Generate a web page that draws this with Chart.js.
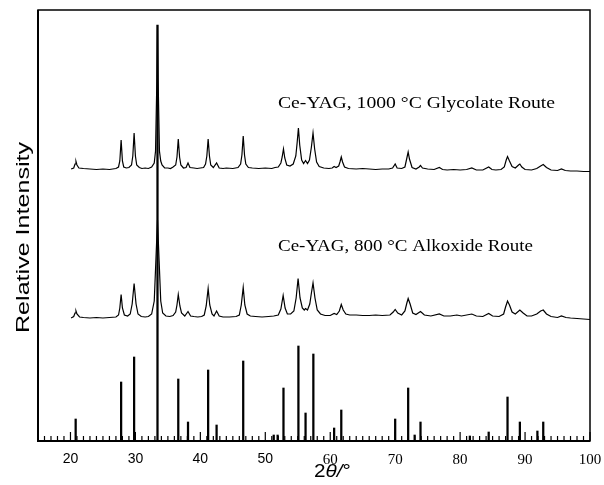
<!DOCTYPE html>
<html>
<head>
<meta charset="utf-8">
<script src="https://cdn.jsdelivr.net/npm/chart.js@4/dist/chart.umd.min.js"></script>
<style>
  html, body { margin: 0; padding: 0; background: #fff; }
  #wrap { width: 604px; height: 485px; }
</style>
</head>
<body>
<div id="wrap"><canvas id="c" width="604" height="485"></canvas></div>
<script>
// ---- Data (2θ in degrees, intensity in arbitrary units) ----
const stickTheta = [20.8, 27.8, 29.8, 33.4, 36.6, 38.1, 41.2, 42.5, 46.6, 51.3, 51.9, 52.8, 55.1, 56.2, 57.4, 60.6, 61.7, 70.0, 72.0, 73.0, 73.9, 81.5, 84.4, 87.3, 89.2, 91.9, 92.8];
const stickI     = [22,   59,   84,   416,  62,   19,   71,   16,   80,   6,    6,    53,   95,   28,   87,   13,   31,   22,   53,   6,    19,   5,    9,    44,   19,   10,   19];

const glycolateTheta = [20.1,20.5,20.7,20.85,21.0,21.3,22,23,24,25,26,27,27.4,27.6,27.8,28.0,28.2,28.6,29.0,29.4,29.6,29.8,30.0,30.2,30.6,31,31.5,32,32.5,32.9,33.1,33.3,33.4,33.5,33.7,33.9,34.1,34.5,35,35.4,35.8,36.2,36.4,36.6,36.8,37.0,37.4,37.8,38.1,38.4,39,39.5,40,40.5,40.8,41.0,41.2,41.4,41.6,42.0,42.5,42.9,43.5,44,45,45.8,46.2,46.4,46.6,46.8,47.0,47.4,48,49,50,51,51.5,52,52.4,52.6,52.8,53.0,53.3,53.8,54.3,54.7,54.9,55.1,55.3,55.6,55.9,56.2,56.5,56.8,57.1,57.35,57.6,57.9,58.3,59,59.8,60.3,60.6,60.9,61.3,61.5,61.7,61.9,62.2,62.8,64,65,66,67,68,69,69.6,70.0,70.3,71,71.5,71.8,72.0,72.2,72.6,73.2,73.7,73.9,74.2,75,76,76.8,77.3,78,79,80,81,81.8,82.5,83.5,84.4,84.9,85.5,86.3,86.8,87.1,87.3,87.6,88,88.5,89.0,89.2,89.5,90,91,91.8,92.4,92.8,93.3,94,95,95.6,96.2,97,98,99,100];
const glycolateI     = [272,273,277,279.5,276,273,272.5,272,271.5,272,271.5,272.5,274,280,301,280,274,273,273.5,276,285,308,285,276,273.5,272.5,273,272.5,274,278,290,360,416,360,290,280,276,273,273,272.5,274,276,284,302,284,276,273,273.5,278,273.5,273,272.5,273,273.5,277,285,302,285,276,273.5,278,273,272.5,273,272.5,273.5,277,286,305,286,277,273.5,273,272.5,273,272.5,273.5,274,278,284,292,283,276,275,277,285,298,313,296,281,277.5,280.5,277.5,281,294,308,292,279,274.5,273,272.5,273,274.5,273.5,275,279,284,279,274,272.5,272,272.5,272,271.5,272,272,273,277,273,272.5,274,283,289,282,273.5,272,274,275.5,273,272,271.5,273.5,271.5,271,271.5,271,271.5,273,271,271,274,271.5,271,271.5,274,281,284.5,280,274.5,273,276,277,274,271.5,271,272.5,275,276.5,273.5,271,270.5,272,270.5,270,270,269.5,269.5];

const alkoxideTheta = [20.1,20.5,20.7,20.85,21.0,21.4,22,23,24,25,26,27,27.4,27.6,27.8,28.0,28.3,28.8,29.2,29.5,29.8,30.1,30.4,30.9,31.5,32,32.5,32.9,33.15,33.4,33.65,33.9,34.2,34.7,35.3,35.8,36.2,36.4,36.6,36.85,37.1,37.6,38.1,38.5,39,39.6,40.2,40.6,40.9,41.2,41.45,41.8,42.1,42.5,42.9,43.5,44.5,45.5,46.0,46.3,46.6,46.85,47.2,47.7,48.5,49.5,50.5,51.3,52.0,52.4,52.75,53.05,53.4,53.9,54.4,54.75,55.05,55.35,55.7,56.0,56.2,56.5,56.85,57.1,57.35,57.65,58.0,58.5,59.2,60.0,60.6,61.0,61.4,61.7,62.0,62.4,63,64,65,66,67,68,69.2,69.7,70.0,70.4,71.0,71.5,71.8,72.0,72.3,72.7,73.2,73.9,74.5,75.5,76.8,77.5,78.5,79.5,80.2,81.8,82.5,83.5,84.4,85,86,86.7,87.0,87.3,87.6,88.0,88.5,89.2,89.7,90.3,91,91.8,92.4,92.8,93.3,94,95,95.6,96.3,97,98,99,100];
const alkoxideI     = [123,124.5,128,130,127,124,123.5,123,123.5,123,123.5,124,126,133,146.5,133,126,125,127,137,157.5,137,127,124.5,124,124.5,127,140,180,221,180,140,128,125,124.5,125.5,129,136,146.5,135,128,125,129.5,125,124.5,124,124.5,126,135,152.5,136,127,125,130,125,124,124,124.5,126,136,153.5,136,127,125,124.5,124,124.5,125,126,132,145.5,133,127,127,130,143,162.5,143,133,131,132.5,131,137,148,158,143,131,127,125.5,125.5,127.5,126.5,130,136.5,131,127,126,126,125.5,125.5,126,125.5,126,129,131.5,128,126,130,138,142.5,137,128,126.5,129.5,126,125,127,125,125,126,125,127,125,124.5,127.5,125,124.5,127,134,140,136,129,127,131,128,125,125,127,130,131,127,124.5,123.5,125,123.5,123,122.5,122,121.5];

const xTickLabels = ['20','30','40','50','60','70','80','90','100'];
const labelGlycolate = 'Ce-YAG, 1000 °C Glycolate Route';
const labelAlkoxide  = 'Ce-YAG, 800 °C Alkoxide Route';
const yTitle = 'Relative Intensity';

const toXY = (xs, ys) => xs.map((x, i) => ({ x: x, y: ys[i] }));

const decor = {
  id: 'decor',
  afterDraw(chart) {
    const { ctx, chartArea: a, scales: { x } } = chart;
    ctx.save();
    ctx.strokeStyle = '#000';
    ctx.fillStyle = '#000';
    // frame
    ctx.lineWidth = 1.5;
    ctx.strokeRect(a.left, a.top, a.right - a.left, a.bottom - a.top);
    ctx.lineWidth = 2;
    ctx.beginPath();
    ctx.moveTo(a.left, a.top); ctx.lineTo(a.left, a.bottom); ctx.lineTo(a.right, a.bottom);
    ctx.stroke();
    // inward tick marks
    ctx.lineWidth = 1.2;
    x.ticks.forEach(t => {
      const px = x.getPixelForValue(t.value);
      const len = (t.value % 10 === 0) ? 9 : 5;
      ctx.beginPath(); ctx.moveTo(px, a.bottom); ctx.lineTo(px, a.bottom - len); ctx.stroke();
    });
    // annotation labels
    const drawFit = (txt, font, left, base, width) => {
      ctx.font = font;
      const w = ctx.measureText(txt).width;
      ctx.save();
      ctx.translate(left, base);
      ctx.scale(width / w, 1);
      ctx.textBaseline = 'alphabetic';
      ctx.textAlign = 'left';
      ctx.fillText(txt, 0, 0);
      ctx.restore();
    };
    drawFit(labelGlycolate, '17px "Liberation Serif"', 278, 107.5, 277);
    drawFit(labelAlkoxide, '17px "Liberation Serif"', 278, 250.5, 255);
    // y title
    ctx.save();
    ctx.font = '18px "Liberation Sans"';
    const wy = ctx.measureText(yTitle).width;
    ctx.translate(28.5, 333);
    ctx.rotate(-Math.PI / 2);
    ctx.scale(191 / wy, 1);
    ctx.textBaseline = 'alphabetic';
    ctx.fillText(yTitle, 0, 0);
    ctx.restore();
    // x title 2θ/°
    ctx.save();
    ctx.textBaseline = 'alphabetic';
    let cx = 314;
    const base = 477;
    ctx.font = '18px "Liberation Sans"';
    ctx.save(); ctx.translate(cx, base); ctx.scale(1.15, 1); ctx.fillText('2', 0, 0); ctx.restore();
    cx += ctx.measureText('2').width * 1.15;
    ctx.font = 'italic 18px "Liberation Sans"';
    ctx.save(); ctx.translate(cx, base); ctx.scale(1.15, 1); ctx.fillText('θ/', 0, 0); ctx.restore();
    cx += ctx.measureText('θ/').width * 1.15;
    ctx.font = '18px "Liberation Sans"';
    ctx.save(); ctx.translate(cx, base); ctx.scale(1.15, 1); ctx.fillText('°', 0, 0); ctx.restore();
    ctx.restore();
    ctx.restore();
  }
};

new Chart(document.getElementById('c'), {
  type: 'line',
  data: {
    datasets: [
      { type: 'bar', data: toXY(stickTheta, stickI), backgroundColor: '#000', borderWidth: 0, barThickness: 1.6, order: 3 },
      { type: 'line', data: toXY(glycolateTheta, glycolateI), borderColor: '#000', borderWidth: 1.2, pointRadius: 0, tension: 0, fill: false, order: 1 },
      { type: 'line', data: toXY(alkoxideTheta, alkoxideI), borderColor: '#000', borderWidth: 1.2, pointRadius: 0, tension: 0, fill: false, order: 2 }
    ]
  },
  options: {
    responsive: false,
    animation: false,
    layout: { padding: { left: 38, right: 14, top: 10, bottom: 16 } },
    plugins: { legend: { display: false }, tooltip: { enabled: false } },
    scales: {
      x: {
        type: 'linear', min: 15, max: 100, offset: false,
        grid: { display: false, drawTicks: true, tickLength: 10 },
        border: { display: false },
        ticks: {
          stepSize: 1, autoSkip: false, maxRotation: 0, minRotation: 0, maxTicksLimit: 200,
          padding: 0, color: '#000',
          callback: (v) => xTickLabels.includes(String(v)) ? String(v) : '',
          font: (c) => (c.tick && c.tick.value >= 60)
            ? { family: '"Liberation Serif"', size: 15 }
            : { family: '"Liberation Sans"', size: 14 }
        }
      },
      y: { display: false, min: 0, max: 431 }
    }
  },
  plugins: [decor]
});
</script>
</body>
</html>
